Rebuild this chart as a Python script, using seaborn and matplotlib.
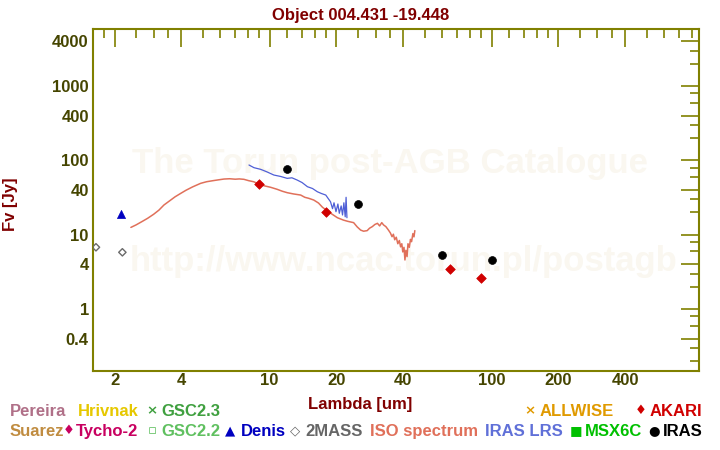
import numpy as np
import pandas as pd
import seaborn as sns
import matplotlib.pyplot as plt

# ISO spectrum (um, Jy)
iso_wl = [2.37, 2.50, 2.65, 2.82, 3.00, 3.17, 3.34, 3.55, 3.75, 3.98, 4.20, 4.50,
          4.89, 5.20, 5.55, 5.90, 6.23, 6.60, 7.00, 7.30, 7.66, 8.05, 8.47, 9.00,
          9.50, 10.1, 10.8, 11.4, 12.0, 12.8, 13.8, 14.4, 15.0, 15.8, 16.6, 17.3,
          18.2, 19.0, 20.2, 21.5, 22.5, 23.9, 24.8, 25.7, 26.5, 27.5, 28.2, 29.0,
          29.8, 30.6, 31.3, 32.0, 32.6, 33.4, 34.3, 35.0, 35.6, 36.1, 36.6, 37.2,
          37.8, 38.4, 38.9, 39.4, 39.8, 40.3, 40.7, 41.1, 41.6, 42.0, 42.6, 43.1,
          43.6, 44.2, 44.7, 45.1]
iso_flux = [12.6, 13.6, 15.0, 16.7, 18.9, 21.5, 25.2, 28.8, 32.5, 36.2, 39.8, 44.2,
            49.3, 51.8, 53.5, 55.0, 56.3, 56.8, 56.0, 56.5, 55.8, 53.5, 51.8, 48.0,
            45.5, 43.6, 41.0, 38.6, 36.9, 35.5, 34.3, 32.0, 31.0, 29.4, 26.8, 23.5,
            21.0, 19.2, 17.0, 15.8, 15.2, 14.6, 12.8, 11.6, 11.2, 11.4, 12.3, 12.9,
            13.8, 14.3, 13.2, 14.6, 13.6, 12.9, 11.6, 10.6, 9.45, 10.2, 8.6, 9.3,
            7.6, 8.4, 6.9, 7.6, 5.9, 6.8, 4.6, 6.2, 5.1, 7.6, 6.8, 8.7,
            8.1, 10.4, 9.4, 11.4]

# IRAS LRS spectrum
lrs_wl = [8.07, 8.5, 9.11, 9.7, 10.45, 11.2, 12.0, 12.6, 13.3, 14.0, 14.8, 15.6,
          16.4, 17.1, 17.9, 18.4, 18.8, 19.2, 19.5, 19.9, 20.3, 20.6, 21.0, 21.3,
          21.6, 21.9, 22.1, 22.3]
lrs_flux = [86.9, 80.0, 76.0, 70.5, 63.7, 61.0, 57.5, 58.5, 54.6, 50.5, 44.4, 42.0,
            38.0, 36.0, 34.3, 30.5, 27.9, 22.5, 27.0, 20.5, 26.0, 19.5, 24.5, 18.5,
            27.0, 17.5, 32.0, 17.0]

# photometry
iras_wl = [12, 25, 60, 100]
iras_flux = [76.0, 26.0, 5.31, 4.55]
akari_wl = [9, 18, 65, 90]
akari_flux = [48.2, 20.3, 3.48, 2.61]
twomass_wl = [1.65, 2.17]
twomass_flux = [6.81, 5.83]
denis_wl = [2.15]
denis_flux = [18.9]

x_major = [2, 4, 10, 20, 40, 100, 200, 400]
x_labels = ["2", "4", "10", "20", "40", "100", "200", "400"]
y_major = [0.4, 1, 4, 10, 40, 100, 400, 1000, 4000]
y_labels = ["0.4", "1", "4", "10", "40", "100", "400", "1000", "4000"]

sns.set_theme(style="white")
plt.rcParams['font.family'] = ['Liberation Sans', 'DejaVu Sans']
plt.rcParams['font.weight'] = 'bold'

olive = '#808000'
tick_txt = '#454500'
dark_red = '#800000'

fig = plt.figure(figsize=(7.2, 4.5), dpi=100)
ax = fig.add_axes([93 / 720, 1 - 371 / 450, 606 / 720, 342 / 450])
ax.set_facecolor('none')

# watermark, behind the axes
fig.text(390 / 720, 1 - 163 / 450, "The Torun post-AGB Catalogue", fontsize=25,
         color='#faf7f0', ha='center', va='center', fontweight='bold', zorder=-1)
fig.text(404 / 720, 1 - 262 / 450, "http://www.ncac.torun.pl/postagb", fontsize=25,
         color='#faf7f0', ha='center', va='center', fontweight='bold', zorder=-1)

iso = pd.DataFrame({"wl": iso_wl, "flux": iso_flux})
lrs = pd.DataFrame({"wl": lrs_wl, "flux": lrs_flux})
sns.lineplot(data=iso, x="wl", y="flux", ax=ax, color='#e0705a', lw=1.1,
             estimator=None, sort=False, zorder=2)
sns.lineplot(data=lrs, x="wl", y="flux", ax=ax, color='#4f5fd6', lw=0.9,
             estimator=None, sort=False, zorder=3)

sns.scatterplot(x=iras_wl, y=iras_flux, ax=ax, marker='o', s=32, color='black',
                edgecolor='black', linewidth=0.5, zorder=5)
sns.scatterplot(x=akari_wl, y=akari_flux, ax=ax, marker='D', s=24, color='#d00000',
                edgecolor='#d00000', linewidth=0.5, zorder=5)
sns.scatterplot(x=twomass_wl, y=twomass_flux, ax=ax, marker='D', s=14, color='#6a6a6a',
                facecolor='none', edgecolor='#6a6a6a', linewidth=1.0, zorder=5)
sns.scatterplot(x=denis_wl, y=denis_flux, ax=ax, marker='^', s=34, color='#0000c0',
                edgecolor='#0000c0', linewidth=0.5, zorder=5)

ax.set_xscale('log')
ax.set_yscale('log')

x_minor = [m * d for d in [1, 10, 100] for m in [1.2, 1.4, 1.6, 1.8, 2.5, 3, 3.5, 5, 6, 7, 8, 9]]
y_minor = [m * d for d in [0.1, 1, 10, 100, 1000] for m in [2, 3, 6, 8]]
ax.set_xticks(x_major, x_labels)
ax.set_xticks(x_minor, minor=True)
ax.set_yticks(y_major, y_labels)
ax.set_yticks(y_minor, minor=True)
ax.xaxis.set_minor_formatter(plt.NullFormatter())
ax.yaxis.set_minor_formatter(plt.NullFormatter())
# limits after the ticks, set_ticks would widen them
ax.set_xlim(1.6, 860)
ax.set_ylim(0.148, 5850)

ax.tick_params(which='both', direction='in', top=True, right=True, color=olive,
               width=1.2, labelcolor=tick_txt, labelsize=12)
ax.tick_params(which='major', length=13)
ax.tick_params(which='minor', length=6.5)
ax.tick_params(axis='x', pad=1.5)
ax.tick_params(axis='y', pad=3)
for lab in ax.get_xticklabels() + ax.get_yticklabels():
    lab.set_fontweight('bold')
for sp in ax.spines.values():
    sp.set_color(olive)
    sp.set_linewidth(1.5)
ax.set_xlabel("")
ax.set_ylabel("")

# title and axis labels
fig.text(361 / 720, 1 - 20 / 450, "Object 004.431 -19.448", color=dark_red,
         fontsize=12, fontweight='bold', ha='center', va='baseline')
fig.text(360 / 720, 1 - 409 / 450, "Lambda [um]", color=dark_red,
         fontsize=12, fontweight='bold', ha='center', va='baseline')
fig.text(10 / 720, 1 - 204 / 450, "Fv [Jy]", color=dark_red, rotation=90,
         fontsize=12, fontweight='bold', ha='center', va='center')

# catalogue legend
legend_rows = [
    (416, [(10, None, "Pereira", '#b07088'), (78, None, "Hrivnak", '#e6c800'),
           (161, ('×', 152), "GSC2.3", '#40a040'), (540, ('×', 530), "ALLWISE", '#e09a00'),
           (650, ('♦', 641), "AKARI", '#d00000')]),
    (436, [(10, None, "Suarez", '#c08c40'), (76, ('♦', 69), "Tycho-2", '#c80060'),
           (161, ('▫', 152), "GSC2.2", '#60c060'), (241, ('▲', 230), "Denis", '#0000c0'),
           (305, ('◇', 295), "2MASS", '#666666'), (370, None, "ISO spectrum", '#e0705a'),
           (485, None, "IRAS LRS", '#6070d8'), (585, ('■', 576), "MSX6C", '#00c000'),
           (663, ('●', 654), "IRAS", 'black')]),
]
for base, items in legend_rows:
    for tx, mk, label, col in items:
        fig.text(tx / 720, 1 - base / 450, label, color=col, fontsize=12,
                 fontweight='bold', ha='left', va='baseline')
        if mk is not None:
            fig.text(mk[1] / 720, 1 - (base - 5) / 450, mk[0], color=col, fontsize=9.5,
                     family='DejaVu Sans', ha='center', va='center')

fig.savefig("out.png", dpi=100)
